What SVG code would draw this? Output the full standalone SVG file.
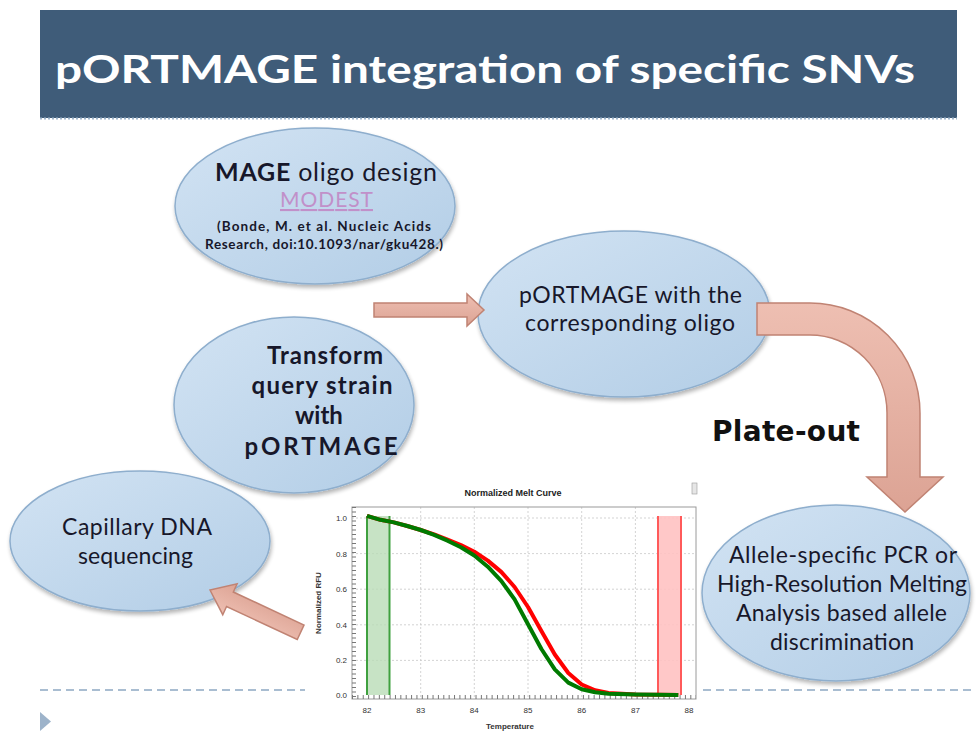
<svg xmlns="http://www.w3.org/2000/svg" width="976" height="731" viewBox="0 0 976 731">
<defs>
<linearGradient id="eg" x1="0" y1="0" x2="1" y2="1">
<stop offset="0" stop-color="#d2e3f3"/>
<stop offset="1" stop-color="#b2cde6"/>
</linearGradient>
<linearGradient id="ag" x1="0" y1="0" x2="0" y2="1">
<stop offset="0" stop-color="#eebfb2"/>
<stop offset="1" stop-color="#dca394"/>
</linearGradient>
<filter id="sh" x="-10%" y="-10%" width="120%" height="130%">
<feGaussianBlur in="SourceAlpha" stdDeviation="2"/>
<feOffset dx="1" dy="3" result="b"/>
<feComponentTransfer><feFuncA type="linear" slope="0.3"/></feComponentTransfer>
<feMerge><feMergeNode/><feMergeNode in="SourceGraphic"/></feMerge>
</filter>
</defs>
<style>
.ell{fill:url(#eg);stroke:#8eaecd;stroke-width:1.5;filter:url(#sh)}
.arr{fill:url(#ag);stroke:#c08373;stroke-width:1.5}
.t{font-family:Lato,"Open Sans","Liberation Sans",sans-serif;fill:#17172a;text-anchor:middle}
.n{font-size:23px}
.b{font-weight:bold;font-size:24px}
.ax{font-family:"Liberation Sans",Arial,sans-serif;font-size:8px;fill:#333}
.grid{stroke:#c8c8c8;stroke-width:0.8;stroke-dasharray:2 2}
</style>

<rect x="0" y="0" width="976" height="731" fill="#ffffff"/>

<g id="title">
<rect x="40" y="10" width="917" height="108" fill="#3f5c79"/>
<line x1="40" y1="118.5" x2="957" y2="118.5" stroke="#9fb6cc" stroke-width="2" stroke-dasharray="2 2"/>
<text x="55" y="83" font-family="Lato,'Open Sans','Liberation Sans',sans-serif" font-weight="bold" font-size="39" fill="#ffffff" textLength="860" lengthAdjust="spacingAndGlyphs">pORTMAGE  integration  of  specific  SNVs</text>
</g>

<g id="footer">
<line x1="40" y1="690" x2="976" y2="690" stroke="#a9bdd1" stroke-width="2" stroke-dasharray="8 5"/>
<polygon points="40,712 51,721.5 40,731" fill="#9db3ca"/>
</g>

<g id="node-mage">
<ellipse class="ell" cx="315" cy="206" rx="140" ry="78"/>
<text class="t" x="326" y="181" font-size="25" textLength="222"><tspan font-weight="bold">MAGE</tspan> oligo design</text>
<text class="t" x="326.5" y="207" font-size="21" style="fill:#c190c9" text-decoration="underline" textLength="93">MODEST</text>
<text class="t" x="324" y="231" font-size="13.5" font-weight="bold" textLength="214">(Bonde,  M. et al. Nucleic Acids</text>
<text class="t" x="324" y="249" font-size="13.5" font-weight="bold" textLength="238">Research, doi:10.1093/nar/gku428.)</text>
</g>

<g id="node-transform">
<ellipse class="ell" cx="294" cy="405" rx="120" ry="88"/>
<text class="t b" x="325" y="364" textLength="116">Transform</text>
<text class="t b" x="322" y="394" textLength="141">query strain</text>
<text class="t b" x="319" y="424">with</text>
<text class="t b" x="321" y="455" font-size="25" textLength="153">pORTMAGE</text>
</g>

<g id="node-portmage">
<ellipse class="ell" cx="624" cy="314" rx="146" ry="83"/>
<text class="t n" x="630.5" y="303" textLength="223">pORTMAGE with the</text>
<text class="t n" x="630" y="331" textLength="210">corresponding oligo</text>
</g>

<g id="node-capillary">
<ellipse class="ell" cx="140" cy="541" rx="130" ry="70"/>
<text class="t n" x="137" y="535" textLength="150">Capillary DNA</text>
<text class="t n" x="135.5" y="564" textLength="115">sequencing</text>
</g>

<g id="node-allele">
<ellipse class="ell" cx="836" cy="593" rx="134" ry="88"/>
<text class="t n" x="843" y="563" textLength="228">Allele-specific PCR or</text>
<text class="t n" x="842" y="592" textLength="250">High-Resolution Melting</text>
<text class="t n" x="841.5" y="621" textLength="211">Analysis based allele</text>
<text class="t n" x="842" y="650" textLength="144">discrimination</text>
</g>

<g id="chart">
<rect x="305" y="500" width="395" height="231" fill="#ffffff"/>
<text x="513" y="496" font-family="'Liberation Sans',Arial,sans-serif" font-size="9" font-weight="bold" text-anchor="middle" fill="#222">Normalized Melt Curve</text>
<rect x="692" y="483" width="5" height="11" fill="#e6e6e6" stroke="#9a9a9a" stroke-width="0.6"/>
<g class="grid">
<line x1="420.7" y1="507" x2="420.7" y2="699"/>
<line x1="474.3" y1="507" x2="474.3" y2="699"/>
<line x1="528" y1="507" x2="528" y2="699"/>
<line x1="581.7" y1="507" x2="581.7" y2="699"/>
<line x1="635.4" y1="507" x2="635.4" y2="699"/>
<line x1="352" y1="518" x2="696" y2="518"/>
<line x1="352" y1="553.6" x2="696" y2="553.6"/>
<line x1="352" y1="589.2" x2="696" y2="589.2"/>
<line x1="352" y1="624.8" x2="696" y2="624.8"/>
<line x1="352" y1="660.4" x2="696" y2="660.4"/>
</g>
<rect x="352" y="507" width="344" height="192" fill="none" stroke="#9a9a9a" stroke-width="1"/>
<line x1="352" y1="697" x2="696" y2="697" stroke="#777" stroke-width="4" stroke-dasharray="1 4.37"/>
<line x1="354" y1="507" x2="354" y2="699" stroke="#777" stroke-width="4" stroke-dasharray="1 3.5"/>
<rect x="367" y="516" width="23" height="179" fill="#b9dcb7" fill-opacity="0.8"/>
<line x1="367" y1="516" x2="367" y2="695" stroke="#3fa03f" stroke-width="2"/>
<line x1="389.5" y1="516" x2="389.5" y2="695" stroke="#3fa03f" stroke-width="2"/>
<rect x="658" y="516" width="23" height="179" fill="#ffc2c2" fill-opacity="0.9"/>
<line x1="658" y1="516" x2="658" y2="695" stroke="#ff5a5a" stroke-width="2"/>
<line x1="681" y1="516" x2="681" y2="695" stroke="#ff5a5a" stroke-width="2"/>
<polyline fill="none" stroke="#ff0000" stroke-width="4" stroke-linejoin="round" points="367,515.9 380.4,519.8 393.8,522.4 407.3,526 420.7,530 434.1,534.4 447.5,539.6 460.9,545 474.3,551.8 487.8,560.6 501.2,571.9 514.6,587 528,607 541.4,631 554.8,654.5 568.3,673 581.7,684.5 595.1,690.3 608.5,693 635.4,694.4 678.3,695"/>
<polyline fill="none" stroke="#007a00" stroke-width="4" stroke-linejoin="round" points="367,515.9 380.4,519.8 393.8,522.4 407.3,526 420.7,530 434.1,534.8 447.5,540.7 460.9,547.2 474.3,555.5 487.8,566.7 501.2,580.8 514.6,599.4 528,624.2 541.4,649 554.8,669.3 568.3,682.6 581.7,689.3 595.1,692.3 608.5,693.8 635.4,694.6 678.3,695"/>
<g class="ax" text-anchor="end">
<text x="347" y="521">1.0</text>
<text x="347" y="556.6">0.8</text>
<text x="347" y="592.2">0.6</text>
<text x="347" y="627.8">0.4</text>
<text x="347" y="663.4">0.2</text>
<text x="347" y="698">0.0</text>
</g>
<g class="ax" text-anchor="middle">
<text x="367" y="713">82</text>
<text x="420.7" y="713">83</text>
<text x="474.3" y="713">84</text>
<text x="528" y="713">85</text>
<text x="581.7" y="713">86</text>
<text x="635.4" y="713">87</text>
<text x="689" y="713">88</text>
<text x="510" y="729" font-weight="bold">Temperature</text>
<text x="0" y="0" font-weight="bold" transform="translate(321,603) rotate(-90)">Normalized RFU</text>
</g>
</g>

<g id="connectors">
<path class="arr" d="M374,303 H467 V294 L484,310 L467,326 V317 H374 Z"/>
<path class="arr" d="M757,303 H810 A110,110 0 0 1 920,413 V477 H943 L905,512 L867,477 H887 V413 A77,78 0 0 0 810,335 H757 Z"/>
<path class="arr" transform="translate(210,590) rotate(205)" d="M0,0 L-22,-17 V-8 H-100 V8 H-22 V17 Z"/>
</g>

<g id="label-plateout">
<text x="712" y="441" font-family="'DejaVu Sans',Verdana,sans-serif" font-weight="bold" font-size="28" fill="#111" textLength="148">Plate-out</text>
</g>
</svg>
